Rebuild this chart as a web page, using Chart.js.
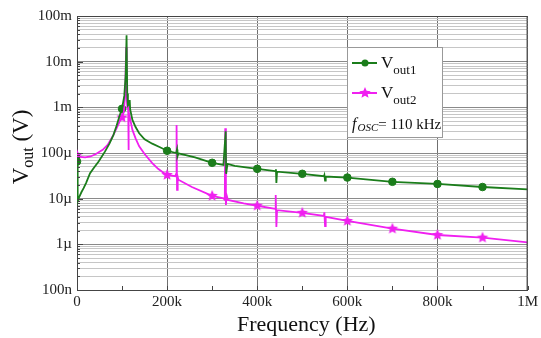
<!DOCTYPE html>
<html>
<head>
<meta charset="utf-8">
<script src="https://cdn.jsdelivr.net/npm/chart.js@4.4.0/dist/chart.umd.min.js"></script>
<style>
html, body { margin: 0; padding: 0; background: #fff; }
</style>
</head>
<body>
<canvas id="grafico" width="541" height="338"></canvas>
<script>
// Valores (Hz, V)
const freqVout1 = [0, 1500, 5000, 10000, 14700, 20000, 29000, 38000, 48000, 62000, 72000, 81000, 88000, 95000,
    100000, 105000, 108000, 110000, 111500, 113000, 116000, 117000, 118000, 123000, 130000, 138000, 150000, 167000,
    183000, 200000, 220000, 222000, 223000, 225000, 262000, 300000, 325000, 330000, 331000, 334000, 350000, 400000,
    440000, 441500, 442500, 444000, 500000, 548000, 549000, 550500, 552000, 600000, 700000, 800000, 900000, 1000000];
const vout1 = [65e-6, 8.7e-6, 11e-6, 14e-6, 17e-6, 22e-6, 36e-6, 48e-6, 65e-6, 107e-6, 160e-6, 250e-6, 400e-6, 680e-6,
    0.93e-3, 1.8e-3, 5e-3, 38e-3, 2e-3, 1.1e-3, 1.2e-3, 1.45e-3, 0.9e-3, 0.53e-3, 0.37e-3, 0.27e-3, 0.2e-3, 0.16e-3,
    0.135e-3, 0.112e-3, 0.1e-3, 0.12e-3, 0.085e-3, 0.098e-3, 0.08e-3, 0.061e-3, 0.055e-3, 0.3e-3, 0.035e-3, 0.058e-3, 0.052e-3, 0.045e-3,
    40e-6, 44e-6, 22e-6, 39e-6, 35e-6, 31e-6, 33e-6, 25e-6, 30.5e-6, 29e-6, 23.4e-6, 21e-6, 18e-6, 16e-6];

const freqVout2 = [0, 8000, 18000, 30000, 42000, 57000, 68000, 80000, 88000, 95000, 100000, 104000, 107000, 109000,
    110500, 112000, 113500, 114200, 115000, 118000, 123000, 130000, 138000, 150000, 167000, 180000, 195000, 200000,
    218000, 220000, 221000, 222000, 223500, 225000, 255000, 300000, 325000, 328000, 329000, 330500, 332000, 335000,
    370000, 400000, 440000, 441000, 442500, 444000, 500000, 548000, 549000, 550500, 552000, 600000, 700000, 800000,
    900000, 1000000];
const vout2 = [90e-6, 82e-6, 80e-6, 84e-6, 95e-6, 117e-6, 150e-6, 240e-6, 350e-6, 500e-6, 600e-6, 800e-6, 2e-3, 21e-3,
    1.5e-3, 0.9e-3, 1.2e-3, 117e-6, 0.8e-3, 0.55e-3, 0.32e-3, 0.21e-3, 0.14e-3, 95e-6, 60e-6, 45e-6, 35e-6, 33e-6,
    31e-6, 35e-6, 0.41e-3, 15.6e-6, 30e-6, 26e-6, 18e-6, 11.5e-6, 10.2e-6, 9.5e-6, 0.35e-3, 7.3e-6, 12e-6, 9.4e-6,
    7.9e-6, 7e-6, 6e-6, 12e-6, 2.4e-6, 5.6e-6, 4.9e-6, 4.2e-6, 5e-6, 2.5e-6, 4e-6, 3.25e-6, 2.2e-6, 1.6e-6,
    1.4e-6, 1.1e-6];

// Marcadores
const freqMarcadores = [0, 100000, 200000, 300000, 400000, 500000, 600000, 700000, 800000, 900000];
const marcVout1 = [65e-6, 0.93e-3, 112e-6, 61e-6, 45e-6, 35e-6, 29e-6, 23.4e-6, 21e-6, 18e-6];
const marcVout2 = [90e-6, 0.6e-3, 33e-6, 11.5e-6, 7e-6, 4.9e-6, 3.25e-6, 2.2e-6, 1.6e-6, 1.4e-6];

// Rótulos dos eixos
const xTickValues = [0, 200000, 400000, 600000, 800000, 1000000];
const xTickLabels = ['0', '200k', '400k', '600k', '800k', '1M'];
const yTickValues = [1e-7, 1e-6, 1e-5, 1e-4, 1e-3, 1e-2, 1e-1];
const yTickLabels = ['100n', '1\u00b5', '10\u00b5', '100\u00b5', '1m', '10m', '100m'];

const VERDE = '#1b7d1b';
const MAGENTA = '#f020f0';
const FONTE = "'Liberation Serif', 'Times New Roman', serif";

function pares(xs, ys) {
    return xs.map((x, i) => ({ x: x, y: ys[i] }));
}

// Estrela de 5 pontas para o marcador de Vout2
function criarEstrela(r) {
    const c = document.createElement('canvas');
    c.width = c.height = r * 2 + 2;
    const g = c.getContext('2d');
    g.fillStyle = MAGENTA;
    g.beginPath();
    for (let i = 0; i < 10; i++) {
        const ang = -Math.PI / 2 + i * Math.PI / 5;
        const rr = i % 2 === 0 ? r : r * 0.45;
        g.lineTo(r + 1 + rr * Math.cos(ang), r + 1 + rr * Math.sin(ang));
    }
    g.closePath();
    g.fill();
    return c;
}
const estrela = criarEstrela(6);

function ehDecada(v) {
    const l = Math.log10(v);
    return Math.abs(l - Math.round(l)) < 1e-6;
}

// Desenha moldura, marcas menores, legenda e títulos dos eixos
const extras = {
    id: 'extras',
    afterDraw(chart) {
        const ctx = chart.ctx;
        const a = chart.chartArea;
        const sx = chart.scales.x, sy = chart.scales.y;
        ctx.save();

        ctx.strokeStyle = '#444';
        ctx.lineWidth = 1;
        ctx.beginPath();
        ctx.moveTo(a.left, a.top + 0.5); ctx.lineTo(a.right, a.top + 0.5);
        ctx.moveTo(a.right - 0.5, a.top); ctx.lineTo(a.right - 0.5, a.bottom);
        // marcas menores
        sx.ticks.forEach(t => {
            const px = Math.round(sx.getPixelForValue(t.value)) + 0.5;
            ctx.moveTo(px, a.bottom); ctx.lineTo(px, a.bottom - 4);
        });
        sy.ticks.forEach(t => {
            const py = Math.round(sy.getPixelForValue(t.value)) + 0.5;
            ctx.moveTo(a.left, py); ctx.lineTo(a.left + (ehDecada(t.value) ? 6 : 3), py);
        });
        ctx.stroke();

        // legenda
        const bx = a.left + 270, by = a.top + 31, bw = 95, bh = 90;
        ctx.fillStyle = '#fff';
        ctx.fillRect(bx, by, bw, bh);
        ctx.strokeStyle = '#999';
        ctx.strokeRect(bx + 0.5, by + 0.5, bw, bh);

        const linhas = [
            { cor: VERDE, sub: 'out1', yy: by + 16, marc: 'c' },
            { cor: MAGENTA, sub: 'out2', yy: by + 46, marc: 's' }
        ];
        linhas.forEach(l => {
            ctx.strokeStyle = l.cor;
            ctx.lineWidth = 2;
            ctx.beginPath();
            ctx.moveTo(bx + 5, l.yy); ctx.lineTo(bx + 30, l.yy);
            ctx.stroke();
            if (l.marc === 'c') {
                ctx.fillStyle = l.cor;
                ctx.beginPath();
                ctx.arc(bx + 18, l.yy, 3.5, 0, Math.PI * 2);
                ctx.fill();
            } else {
                ctx.drawImage(estrela, bx + 18 - estrela.width / 2, l.yy - estrela.height / 2);
            }
            ctx.fillStyle = '#111';
            ctx.textBaseline = 'alphabetic';
            ctx.textAlign = 'left';
            ctx.font = '17px ' + FONTE;
            ctx.fillText('V', bx + 34, l.yy + 5);
            const w = ctx.measureText('V').width;
            ctx.font = '13px ' + FONTE;
            ctx.fillText(l.sub, bx + 34 + w, l.yy + 11);
        });
        let fx = bx + 5;
        const fy = by + 82;
        ctx.font = 'italic 16px ' + FONTE;
        ctx.fillText('f', fx, fy);
        fx += ctx.measureText('f').width + 1;
        ctx.font = 'italic 11px ' + FONTE;
        ctx.fillText('OSC', fx, fy + 2);
        fx += ctx.measureText('OSC').width;
        ctx.font = '15px ' + FONTE;
        ctx.fillText('= 110 kHz', fx, fy);

        // título do eixo x
        ctx.font = '22px ' + FONTE;
        ctx.textAlign = 'center';
        ctx.fillText('Frequency (Hz)', (a.left + a.right) / 2 + 4, 331);

        // título do eixo y (com subscrito)
        ctx.translate(28, 147);
        ctx.rotate(-Math.PI / 2);
        ctx.textAlign = 'left';
        ctx.font = '23px ' + FONTE;
        const wV = ctx.measureText('V').width;
        const wP = ctx.measureText(' (V)').width;
        ctx.font = '16px ' + FONTE;
        const wO = ctx.measureText('out').width;
        let tx = -(wV + wO + wP) / 2;
        ctx.font = '23px ' + FONTE;
        ctx.fillText('V', tx, 0);
        tx += wV;
        ctx.font = '16px ' + FONTE;
        ctx.fillText('out', tx, 5);
        tx += wO;
        ctx.font = '23px ' + FONTE;
        ctx.fillText(' (V)', tx, 0);

        ctx.restore();
    }
};

Chart.defaults.font.family = FONTE;
Chart.defaults.color = '#222';

new Chart(document.getElementById('grafico'), {
    type: 'scatter',
    data: {
        datasets: [
            {
                label: 'Vout1',
                data: pares(freqVout1, vout1),
                showLine: true,
                borderColor: VERDE,
                borderWidth: 1.8,
                pointRadius: 0,
                tension: 0
            },
            {
                label: 'Vout2',
                data: pares(freqVout2, vout2),
                showLine: true,
                borderColor: MAGENTA,
                borderWidth: 1.8,
                pointRadius: 0,
                tension: 0
            },
            {
                label: 'Vout1 marcadores',
                data: pares(freqMarcadores, marcVout1),
                showLine: false,
                pointStyle: 'circle',
                pointRadius: 3.8,
                backgroundColor: VERDE,
                borderColor: VERDE
            },
            {
                label: 'Vout2 marcadores',
                data: pares(freqMarcadores, marcVout2),
                showLine: false,
                pointStyle: estrela,
                pointRadius: 6
            }
        ]
    },
    options: {
        responsive: false,
        animation: false,
        layout: { padding: { top: 16, right: 10, left: 0, bottom: 0 } },
        plugins: {
            legend: { display: false },
            tooltip: { enabled: false }
        },
        scales: {
            x: {
                type: 'linear',
                min: 0,
                max: 1000000,
                afterFit: s => { s.height = 48; },
                ticks: {
                    stepSize: 100000,
                    autoSkip: false,
                    maxRotation: 0,
                    padding: 3,
                    font: { size: 15 },
                    color: '#222',
                    callback: v => {
                        const i = xTickValues.indexOf(v);
                        return i >= 0 ? xTickLabels[i] : '';
                    }
                },
                grid: {
                    drawTicks: false,
                    color: c => (c.tick && c.tick.value % 200000 === 0) ? '#707070' : 'rgba(0,0,0,0)',
                    lineWidth: 1
                },
                border: { color: '#444', width: 1 }
            },
            y: {
                type: 'logarithmic',
                min: 1e-7,
                max: 1e-1,
                afterFit: s => { s.width = 77; },
                afterBuildTicks: s => {
                    const t = [];
                    for (let d = 0; d < yTickValues.length - 1; d++) {
                        for (let k = 1; k <= 9; k++) t.push({ value: yTickValues[d] * k });
                    }
                    t.push({ value: yTickValues[yTickValues.length - 1] });
                    s.ticks = t;
                },
                ticks: {
                    autoSkip: false,
                    padding: 5,
                    font: { size: 15 },
                    color: '#222',
                    callback: v => {
                        const i = yTickValues.findIndex(t => Math.abs(t - v) / t < 1e-6);
                        return i >= 0 ? yTickLabels[i] : '';
                    }
                },
                grid: {
                    drawTicks: false,
                    color: c => (c.tick && ehDecada(c.tick.value)) ? '#8a8a8a' : '#c6c6c6',
                    lineWidth: 1
                },
                border: { color: '#444', width: 1 }
            }
        }
    },
    plugins: [extras]
});
</script>
</body>
</html>
